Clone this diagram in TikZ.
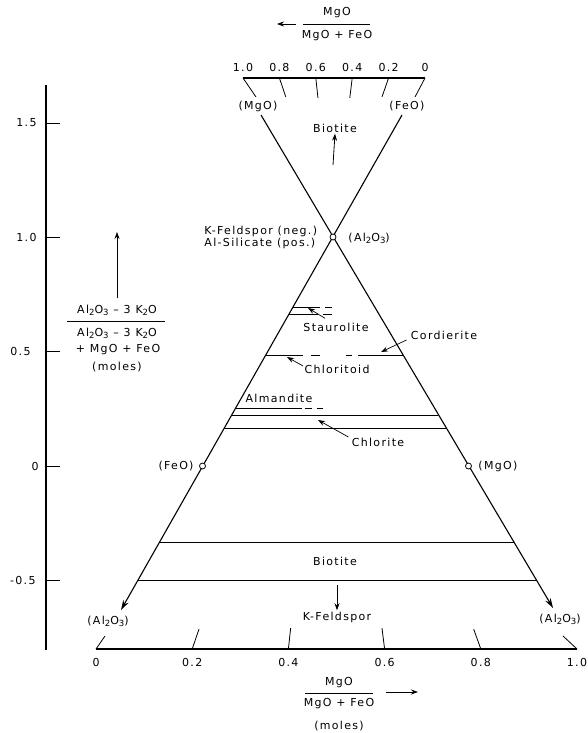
\documentclass[tikz,border=0pt]{standalone}
\usepackage{fontspec}
\setmainfont{DejaVu Sans}[LetterSpace=12]
\usepackage{tikz}
\usetikzlibrary{arrows.meta,calc}

\newcommand{\lowix}[1]{\raisebox{-0.35ex}{\fontsize{8.5}{8.5}\selectfont #1}}
\newcommand{\alox}{(Al\lowix{2}O\lowix{3})}

\begin{document}
\begin{tikzpicture}[x=1pt,y=-1pt,>={Stealth[length=7pt,width=5pt]},line width=0.9pt,
                    every node/.style={font=\fontsize{11}{12}\selectfont,inner sep=1pt}]
  \tikzstyle{tick}=[line width=0.8pt]
  \tikzstyle{side}=[line width=1.1pt]
  \tikzstyle{tie}=[line width=0.9pt]
  \tikzstyle{lead}=[->,line width=0.7pt]
  \tikzstyle{pt}=[circle,draw,fill=white,inner sep=0pt,minimum size=6pt,line width=0.8pt]

  \useasboundingbox (0,0) rectangle (588,733);

  % corners of the two triangles
  \coordinate (apex) at (333,237);
  \coordinate (mgoT) at (261,115);
  \coordinate (feoT) at (402,115);
  \coordinate (alL)  at (121,610);
  \coordinate (alR)  at (553,608);

  \draw[side,-{Stealth[length=10pt,width=6pt]}] (feoT) -- (alL);
  \draw[side,-{Stealth[length=10pt,width=6pt]}] (mgoT) -- (alR);

  % left scale
  \draw[side] (46,85) -- (46,650);
  \foreach \v/\y/\x [count=\i] in {1.5/123/38, 1.0/237/38, 0.5/351/32, 0/466/40, -0.5/580/37}{
    \draw[tick] (46,\y) -- (60,\y);
    \node[anchor=east] (ylab\i) at (\x,\y) {\v};
  }

  % top scale
  \draw[side] (243,78) -- (425,78);
  \foreach \u [count=\i] in {1.0,0.8,0.6,0.4,0.2,0}
    \node (tlab\i) at (425-182*\u,67) {\u};
  \foreach \u in {0.8,0.6,0.4,0.2}
    \draw[tick] (425-182*\u,78) -- ($(425-182*\u,78)!20pt!(apex)$);
  \node (mgot) at (258,106) {(MgO)};
  \node (feot) at (407,106) {(FeO)};
  \draw[tick] (243,78) -- (256,97);   % to (MgO)
  \draw[tick] (425,78) -- (415,97);   % to (FeO)

  % bottom scale
  \draw[side] (96,649) -- (577,649);
  \foreach \u [count=\i] in {0,0.2,0.4,0.6,0.8,1.0}
    \node (blab\i) at (96+481*\u,662) {\u};
  \foreach \u in {0.2,0.4,0.6,0.8}
    \draw[tick] (96+481*\u,649) -- ($(96+481*\u,649)!21pt!(apex)$);
  \node (all) at (108,621) {\alox};
  \node (alr) at (560,619) {\alox};
  \draw[tick] (96,649) -- (105,636);   % to (Al2O3)
  \draw[tick] (577,649) -- (563,636);  % to (Al2O3)

  % tie lines
  \draw[tie] (293,307) -- (320,307) (325,307) -- (332,307);          % staurolite
  \draw[tie] (289,314) -- (318,314) (323,314) -- (332,314);
  \draw[tie] (266,355) -- (303,355) (311,355) -- (320,355)
             (346,355) -- (352,355) (358,355) -- (403,355);          % chloritoid / cordierite
  \draw[tie] (236,408) -- (302,408) (305,408) -- (312,408)
             (317,408) -- (323,408);                                 % almandite
  \draw[tie] (232,415) -- (438,415);                                 % chlorite
  \draw[tie] (224,428) -- (446,428);
  \draw[tie] (160,542) -- (514,542);                                 % biotite
  \draw[tie] (138,580) -- (536,580);

  % projection points
  \node[pt] (ptA) at (apex) {};
  \node[pt] (ptF) at (202.5,466) {};
  \node[pt] (ptM) at (468.5,466) {};

  \node[anchor=west,align=left] (kfal) at (203,237) {K-Feldspor (neg.)\\Al-Silicate (pos.)};
  \node[anchor=west] (alapex) at (347,238) {\alox};
  \node[anchor=east] (feom) at (195,466) {(FeO)};
  \node[anchor=west] (mgom) at (477,466) {(MgO)};

  % phase labels
  \node (bio1) at (335,128) {Biotite};
  \node (stau) at (336,327) {Staurolite};
  \node (ctd)  at (337,369) {Chloritoid};
  \node (crd)  at (444,335) {Cordierite};
  \node (alm)  at (279,398) {Almandite};
  \node (chl)  at (378,442) {Chlorite};
  \node (bio2) at (335,561) {Biotite};
  \node (kfs)  at (337,617) {K-Feldspor};

  \coordinate (bioup) at (333,165);
  \coordinate (stauP) at (308,308);
  \coordinate (ctdP)  at (287,357);
  \coordinate (crdP)  at (381,352);
  \coordinate (chlP)  at (318,420);
  \coordinate (kfsup) at (337,585);

  \path (bioup) edge[->,tick] (bio1.south)
        (stau.north) ++(-11,-3) coordinate (stauS) edge[lead] (stauP)
        (ctd.west) ++(0,-3) coordinate (ctdS) edge[lead] (ctdP)
        (crd.west) ++(-3,5) coordinate (crdS) edge[lead] (crdP)
        (chl.west) ++(-2,-5) coordinate (chlS) edge[lead] (chlP)
        (kfsup) edge[->,tick] (kfs.north);

  % left ratio
  \node (lnum) at (117,310) {Al\lowix{2}O\lowix{3} -- 3 K\lowix{2}O};
  \node (lden) at (117,333) {Al\lowix{2}O\lowix{3} -- 3 K\lowix{2}O};
  \node (lden2) at (118,350) {+ MgO + FeO};
  \node (lmol) at (117,367) {(moles)};
  \draw[tick] (67,321) -- (165,321);
  \coordinate (lup) at (117,232);
  \path (lnum.north) ++(0,-5) coordinate (lst) edge[->,tick] (lup);

  % top ratio
  \node (tnum) at (337,13) {MgO};
  \node (tden) at (337,36) {MgO + FeO};
  \draw[tick] (303,24) -- (370,24);
  \coordinate (tarr) at (277,24);
  \path (296,24) coordinate (tst) edge[->,tick] (tarr);

  % bottom ratio
  \node (bnum) at (339,683) {MgO};
  \node (bden) at (339,704) {MgO + FeO};
  \node (bmol) at (339,726) {(moles)};
  \draw[tick] (305,693) -- (373,693);
  \coordinate (barr) at (418,692);
  \path (386,692) coordinate (bst) edge[->,tick] (barr);
\end{tikzpicture}
\end{document}
